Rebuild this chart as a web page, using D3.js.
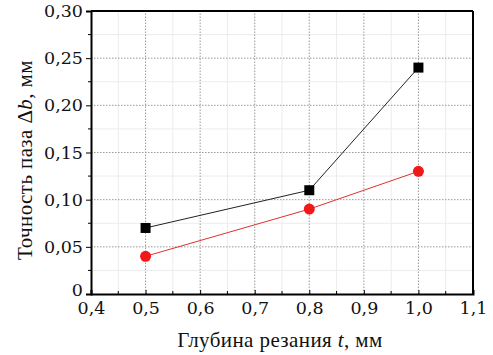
<!DOCTYPE html>
<html>
<head>
<meta charset="utf-8">
<script src="https://cdn.jsdelivr.net/npm/d3@7"></script>
<style>
	body { margin: 0; background: #fff; }
</style>
</head>
<body>
<div id="chart"></div>
<script>
// данные
var depth = [0.5, 0.8, 1.0];
var seriesBlack = [0.07, 0.11, 0.24];
var seriesRed = [0.04, 0.09, 0.13];
var xTicks = [0.4, 0.5, 0.6, 0.7, 0.8, 0.9, 1.0, 1.1];
var yTicks = [0, 0.05, 0.10, 0.15, 0.20, 0.25, 0.30];

var W = 493, H = 355;
var pad = { left: 91, top: 11, right: 20, bottom: 61 };
var tickFont = '"DejaVu Serif", serif';
var titleFont = '"Liberation Serif", "Times New Roman", serif';

var svg = d3.select('#chart').append('svg')
	.attr('width', W)
	.attr('height', H);

var x = d3.scaleLinear().domain([0.4, 1.1]).range([pad.left, W - pad.right]);
var y = d3.scaleLinear().domain([0, 0.30]).range([H - pad.bottom, pad.top]);

var fmt = function(d) {
	if (d === 0) return '0';
	return d.toFixed(1).replace('.', ',');
};
var fmtY = function(d) {
	if (d === 0) return '0';
	return d.toFixed(2).replace('.', ',');
};

// сетка: мелкая
var g = svg.append('g');
d3.range(0.45, 1.1, 0.1).forEach(function(v) {
	g.append('line').attr('x1', x(v)).attr('x2', x(v)).attr('y1', y(0)).attr('y2', y(0.3))
		.attr('stroke', '#ececec').attr('stroke-width', 1);
});
d3.range(0.025, 0.3, 0.05).forEach(function(v) {
	g.append('line').attr('x1', x(0.4)).attr('x2', x(1.1)).attr('y1', y(v)).attr('y2', y(v))
		.attr('stroke', '#ececec').attr('stroke-width', 1);
});
// сетка: основная пунктирная
xTicks.slice(1, -1).forEach(function(v) {
	g.append('line').attr('x1', x(v)).attr('x2', x(v)).attr('y1', y(0)).attr('y2', y(0.3))
		.attr('stroke', '#999').attr('stroke-width', 1).attr('stroke-dasharray', '1.5,1.5');
});
yTicks.slice(1, -1).forEach(function(v) {
	g.append('line').attr('x1', x(0.4)).attr('x2', x(1.1)).attr('y1', y(v)).attr('y2', y(v))
		.attr('stroke', '#999').attr('stroke-width', 1).attr('stroke-dasharray', '1.5,1.5');
});

// оси
var xAxis = svg.append('g')
	.attr('transform', 'translate(0,' + y(0) + ')')
	.call(d3.axisBottom(x).tickValues(xTicks).tickFormat(fmt).tickSize(-4).tickPadding(8));
var yAxis = svg.append('g')
	.attr('transform', 'translate(' + x(0.4) + ',0)')
	.call(d3.axisLeft(y).tickValues(yTicks).tickFormat(fmtY).tickSize(5).tickPadding(3));

// мелкие деления
d3.range(0.45, 1.1, 0.1).forEach(function(v) {
	svg.append('line').attr('x1', x(v)).attr('x2', x(v)).attr('y1', y(0)).attr('y2', y(0) - 3)
		.attr('stroke', '#000');
});
d3.range(0.025, 0.3, 0.05).forEach(function(v) {
	svg.append('line').attr('x1', x(0.4)).attr('x2', x(0.4) - 3).attr('y1', y(v)).attr('y2', y(v))
		.attr('stroke', '#000');
});

[xAxis, yAxis].forEach(function(a) {
	a.attr('font-family', null);
	a.select('.domain').attr('stroke-width', 2);
	a.selectAll('text').style('font-size', '17.5px').style('font-family', tickFont).attr('fill', '#111');
	a.selectAll('.tick line').attr('stroke-width', 1);
});
// "0" на оси y чуть выше, чтобы не налезал на 0,4
yAxis.selectAll('.tick text').filter(function(d) { return d === 0; }).attr('dy', '0.1em');

// рамка сверху и справа
svg.append('line').attr('x1', x(0.4)).attr('x2', x(1.1)).attr('y1', y(0.3)).attr('y2', y(0.3))
	.attr('stroke', '#000').attr('stroke-width', 2);
svg.append('line').attr('x1', x(1.1)).attr('x2', x(1.1)).attr('y1', y(0.3)).attr('y2', y(0))
	.attr('stroke', '#000').attr('stroke-width', 2);

// линии
var line = d3.line().x(function(d) { return x(d[0]); }).y(function(d) { return y(d[1]); });
svg.append('path').datum(d3.zip(depth, seriesBlack)).attr('d', line)
	.attr('fill', 'none').attr('stroke', '#222').attr('stroke-width', 1);
svg.append('path').datum(d3.zip(depth, seriesRed)).attr('d', line)
	.attr('fill', 'none').attr('stroke', '#e0302f').attr('stroke-width', 1);

// маркеры
svg.selectAll('.sq').data(d3.zip(depth, seriesBlack)).enter().append('rect')
	.attr('x', function(d) { return x(d[0]) - 5; })
	.attr('y', function(d) { return y(d[1]) - 5; })
	.attr('width', 10).attr('height', 10).attr('fill', '#000');
svg.selectAll('.ci').data(d3.zip(depth, seriesRed)).enter().append('circle')
	.attr('cx', function(d) { return x(d[0]); })
	.attr('cy', function(d) { return y(d[1]); })
	.attr('r', 5.5).attr('fill', '#f01818');

// подписи осей
var xl = svg.append('text')
	.attr('x', 280).attr('y', 347)
	.attr('text-anchor', 'middle')
	.style('font-family', titleFont)
	.style('font-size', '21px').style('letter-spacing', '0.4px').attr('fill', '#111');
xl.append('tspan').text('Глубина резания ');
xl.append('tspan').style('font-style', 'italic').text('t');
xl.append('tspan').text(', мм');

var yl = svg.append('text')
	.attr('transform', 'translate(32,160) rotate(-90)')
	.attr('text-anchor', 'middle')
	.style('font-family', titleFont)
	.style('font-size', '21px').style('letter-spacing', '0.4px').attr('fill', '#111');
yl.append('tspan').text('Точность паза Δ');
yl.append('tspan').style('font-style', 'italic').text('b');
yl.append('tspan').text(', мм');
</script>
</body>
</html>
